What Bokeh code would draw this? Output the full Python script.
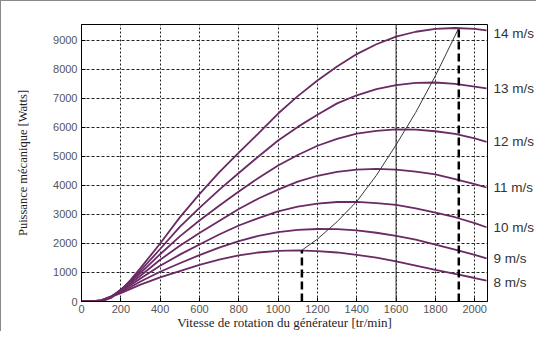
from bokeh.plotting import figure
from bokeh.models import Range1d, FixedTicker, Span, LinearAxis
from bokeh.embed import file_html
from bokeh.resources import INLINE

# ---- data ----
rpm = [0, 50, 100, 150, 200, 250, 300, 400, 500, 600, 700, 800, 900, 1000,
       1100, 1200, 1300, 1400, 1500, 1600, 1700, 1800, 1900, 2000, 2060]

p14 = [0, 0, 0, 120, 380, 750, 1150, 2000, 2900, 3700, 4450, 5130, 5800, 6480,
       7080, 7620, 8100, 8530, 8870, 9130, 9300, 9400, 9430, 9400, 9350]
p13 = [0, 0, 0, 150, 390, 720, 1060, 1810, 2570, 3230, 3850, 4430, 5000, 5550,
       6020, 6440, 6830, 7110, 7320, 7460, 7535, 7550, 7500, 7410, 7345]
p12 = [0, 0, 0, 160, 415, 680, 980, 1630, 2245, 2790, 3300, 3790, 4260, 4690,
       5050, 5370, 5610, 5785, 5885, 5935, 5925, 5870, 5780, 5620, 5505]
p11 = [0, 0, 20, 160, 390, 625, 890, 1440, 1920, 2360, 2775, 3190, 3550, 3855,
       4130, 4335, 4470, 4545, 4574, 4545, 4480, 4380, 4220, 4050, 3930]
p10 = [0, 0, 35, 160, 360, 570, 790, 1230, 1615, 1965, 2310, 2620, 2875, 3105,
       3270, 3375, 3430, 3435, 3395, 3330, 3210, 3065, 2905, 2700, 2560]
p9 = [0, 0, 40, 175, 325, 500, 690, 1025, 1320, 1600, 1860, 2080, 2265, 2390,
      2470, 2500, 2495, 2450, 2370, 2260, 2130, 1965, 1790, 1605, 1485]
p8 = [0, 0, 48, 160, 290, 435, 580, 830, 1050, 1260, 1445, 1590, 1690, 1745,
      1760, 1740, 1690, 1605, 1510, 1380, 1240, 1090, 950, 810, 720]

series = [p14, p13, p12, p11, p10, p9, p8]
labels = ["14 m/s", "13 m/s", "12 m/s", "11 m/s", "10 m/s", "9 m/s", "8 m/s"]
label_y = [9250, 7340, 5500, 3925, 2560, 1470, 650]

# optimal power (MPPT) curve
mppt_rpm = [1121, 1200, 1300, 1400, 1500, 1600, 1700, 1800, 1919]
mppt_p = [1770, 2150, 2750, 3450, 4350, 5400, 6520, 7780, 9430]

# vertical markers
low_rpm = 1121
low_p = 1770
high_rpm = 1919
high_p = 9430
ref_rpm = 1600

x_ticks = [0, 200, 400, 600, 800, 1000, 1200, 1400, 1600, 1800, 2000]
y_ticks = [0, 1000, 2000, 3000, 4000, 5000, 6000, 7000, 8000, 9000]

# ---- figure ----
p = figure(width=536, height=331, output_backend="svg", toolbar_location=None,
           x_range=Range1d(0, 2065), y_range=Range1d(0, 9550),
           min_border_left=80, min_border_right=46, min_border_top=23,
           min_border_bottom=28)
p.styles = {"border-top": "1px solid #8a8a8a", "border-left": "1px solid #8a8a8a"}
p.background_fill_color = "white"
p.border_fill_color = "white"
p.outline_line_color = "black"
p.outline_line_width = 1

for ax in (p.xaxis[0], p.yaxis[0]):
    ax.major_tick_in = 4
    ax.major_tick_out = 0
    ax.minor_tick_in = 0
    ax.minor_tick_out = 0
    ax.axis_line_color = "black"
    ax.major_tick_line_color = "black"
    ax.major_label_text_font = "Liberation Sans"
    ax.major_label_text_font_size = "11px"
    ax.major_label_text_color = "#555555"
    ax.axis_label_text_font = "Liberation Serif"
    ax.axis_label_text_font_style = "normal"
    ax.axis_label_text_color = "#1e1e2a"

p.xaxis.major_label_standoff = 3
p.yaxis.major_label_standoff = 4
p.xaxis.ticker = FixedTicker(ticks=x_ticks)
p.yaxis.ticker = FixedTicker(ticks=y_ticks)
p.xaxis.axis_label = "Vitesse de rotation du générateur [tr/min]"
p.yaxis.axis_label = "Puissance mécanique [Watts]"
p.xaxis.axis_label_text_font_size = "13px"
p.yaxis.axis_label_text_font_size = "12.5px"
p.xaxis.axis_label_standoff = -1
p.yaxis.axis_label_standoff = 20

# wind-speed labels on the right, as an unlined axis
right = LinearAxis(ticker=FixedTicker(ticks=label_y),
                   major_label_overrides={yv: t for yv, t in zip(label_y, labels)},
                   axis_line_color=None, major_tick_line_color=None,
                   minor_tick_line_color=None, major_tick_in=0, major_tick_out=0,
                   minor_tick_in=0, minor_tick_out=0, major_label_standoff=6,
                   major_label_text_font="Liberation Sans",
                   major_label_text_font_size="13.5px",
                   major_label_text_color="#333333")
p.add_layout(right, "right")

p.xgrid.ticker = FixedTicker(ticks=x_ticks)
p.ygrid.ticker = FixedTicker(ticks=y_ticks)
p.xgrid.grid_line_color = "#222222"
p.xgrid.grid_line_dash = "2 2"
p.ygrid.grid_line_color = "#222222"
p.ygrid.grid_line_dash = "3 2"

# power curves
for s in series:
    p.line(rpm, s, line_color="#6a2a63", line_width=1.8)

# reference rpm line
p.add_layout(Span(location=ref_rpm, dimension="height", line_color="#333333",
                  line_width=1))

# MPPT curve
p.line(mppt_rpm, mppt_p, line_color="#3a3a3a", line_width=1)

# dashed verticals
p.segment(x0=[low_rpm, high_rpm], y0=[0, 0], x1=[low_rpm, high_rpm],
          y1=[low_p, high_p], line_color="black", line_width=2.5,
          line_dash="8 4")

open("out.html", "w").write(file_html(p, INLINE))
